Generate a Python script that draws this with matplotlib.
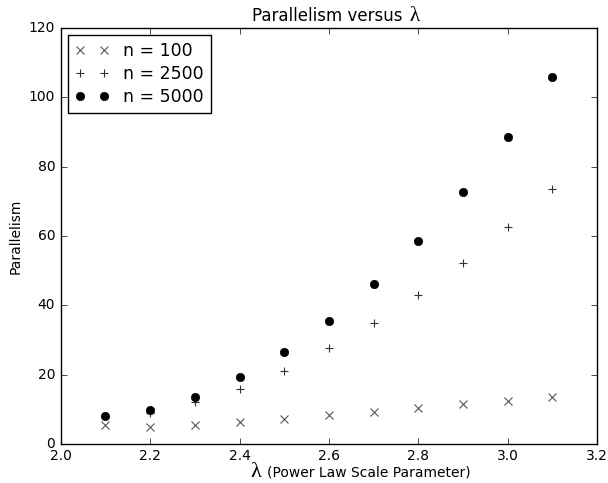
import matplotlib
matplotlib.use("Agg")
import matplotlib.pyplot as plt

plt.style.use("classic")

lam = [2.1, 2.2, 2.3, 2.4, 2.5, 2.6, 2.7, 2.8, 2.9, 3.0, 3.1]
par_100 = [5.5, 5.0, 5.5, 6.3, 7.2, 8.3, 9.2, 10.3, 11.5, 12.5, 13.5]
par_2500 = [8.0, 9.0, 12.1, 15.8, 21.0, 27.6, 34.9, 43.0, 52.3, 62.5, 73.5]
par_5000 = [8.1, 9.8, 13.6, 19.3, 26.5, 35.5, 46.2, 58.6, 72.7, 88.5, 105.9]

fig = plt.figure(figsize=(6.08, 4.83), dpi=100, facecolor="white")
ax = fig.add_axes([0.100, 0.081, 0.882, 0.861])

ax.plot(lam, par_100, linestyle="none", marker="x", color="#555555",
        markersize=6, markeredgewidth=0.8, label="n = 100")
ax.plot(lam, par_2500, linestyle="none", marker="+", color="#333333",
        markersize=6, markeredgewidth=0.8, label="n = 2500")
ax.plot(lam, par_5000, linestyle="none", marker="o", color="black",
        markersize=6, label="n = 5000")

ax.set_xlim(2.0, 3.2)
ax.set_ylim(0, 120)
ax.set_ylabel("Parallelism", fontsize=10)
ax.yaxis.set_label_coords(-0.072, 0.5)
ax.tick_params(labelsize=10)
ax.legend(loc="upper left", numpoints=2, fontsize=12.5, frameon=True,
          labelspacing=0.3, borderaxespad=0.4)

# title: text followed by a larger serif lambda
fig.text(252 / 608, 1 - 21 / 483, "Parallelism versus", fontsize=12,
         ha="left", va="baseline")
fig.text(409 / 608, 1 - 21 / 483, "\u03bb", fontsize=15,
         family="Liberation Serif", ha="left", va="baseline")

# x-axis label: large lambda followed by smaller description
fig.text(250 / 608, 1 - 477 / 483, "\u03bb", fontsize=16,
         family="Liberation Serif", ha="left", va="baseline")
fig.text(267 / 608, 1 - 477 / 483, "(Power Law Scale Parameter)",
         fontsize=10, ha="left", va="baseline")

fig.savefig("out.png", dpi=100, facecolor="white")
